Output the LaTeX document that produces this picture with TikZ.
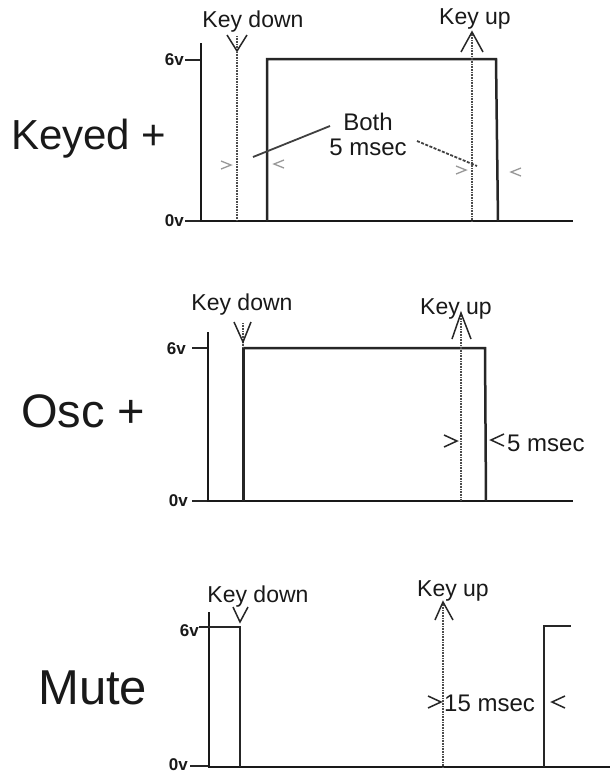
\documentclass[tikz,border=0pt]{standalone}
\usepackage{fontspec}
\setmainfont{Liberation Sans}
\begin{document}
\begin{tikzpicture}[x=1pt,y=-1pt,
  sig/.style={draw=black!85,line width=2.5pt,line join=miter},
  axisline/.style={draw=black!90,line width=2.6pt},
  keyline/.style={draw=black!70,line width=2.4pt,dash pattern=on 1pt off 0.6pt},
  keyhead/.style={draw=black!85,line width=1.5pt},
  title/.style={text=black!90,inner sep=0pt},
  keytxt/.style={font=\fontsize{23}{23}\selectfont,text=black!90,inner sep=0pt},
  mstxt/.style={font=\fontsize{24}{24}\selectfont,text=black!90,inner sep=0pt},
  volt/.style={font=\bfseries\fontsize{17}{17}\selectfont,text=black!90,inner sep=0pt,anchor=east},
  tick/.style={draw=black!85,line width=1.8pt},
  chev1/.style={draw=black!40,line width=1.3pt},
  chev2/.style={draw=black!85,line width=1.5pt},
  leader/.style={draw=black!75,line width=1.8pt}]
\useasboundingbox (0,0) rectangle (610,774);
\fill[white] (0,0) rectangle (610,774);

% ---------- Panel 1: Keyed + ----------
\node[title,font=\fontsize{42}{42}\selectfont,anchor=west] (t1) at (11,139) {Keyed +};
\node[volt] (v6a) at (184,60) {6v};
\node[volt] (v0a) at (184,221) {0v};
\draw[tick] (185,60) -- (201,60);
\draw[tick] (185,221) -- (201,221);
\draw[axisline] (201,43) -- (201,221) -- (573,221);
\draw[sig] (267,221) -- (267,59) -- (496,59) -- (498,221);
% key down
\coordinate (kd1t) at (237,36);
\coordinate (kd1b) at (237,221);
\draw[keyline] (kd1t) -- (kd1b);
\draw[keyhead] (227,35) -- (237,51) -- (247,35);
\node[keytxt] (kd1) at (253,22) {Key down};
% key up
\coordinate (ku1t) at (472,32);
\coordinate (ku1b) at (472,221);
\draw[keyline] (ku1t) -- (ku1b);
\draw[keyhead] (461,52) -- (472,32) -- (483,52);
\node[keytxt] (ku1) at (475,19) {Key up};
% both 5 msec
\node[mstxt] (both) at (368,122) {Both};
\node[mstxt] (ms1) at (368,147) {5 msec};
\coordinate (l1a) at (253,157);
\coordinate (l1b) at (330,126);
\coordinate (l2a) at (417,141);
\coordinate (l2b) at (477,166);
\draw[leader] (l1a) -- (l1b);
\draw[leader,dash pattern=on 3pt off 1.5pt] (l2a) -- (l2b);
\draw[chev1] (221,161) -- (231,165) -- (221,169);
\draw[chev1] (284,160) -- (274,164) -- (284,168);
\draw[chev1] (456,166) -- (466,170) -- (456,174);
\draw[chev1] (521,168) -- (511,172) -- (521,176);

% ---------- Panel 2: Osc + ----------
\node[title,font=\fontsize{47}{47}\selectfont,anchor=west] (t2) at (21,411) {Osc +};
\node[volt] (v6b) at (186,349) {6v};
\node[volt] (v0b) at (188,501) {0v};
\draw[tick] (192,348) -- (208,348);
\draw[tick] (192,501) -- (208,501);
\draw[axisline] (208,332) -- (208,501) -- (573,501);
\draw[sig,line width=3pt] (243,501) -- (243,348);
\draw[sig] (243,348) -- (485,348) -- (486,501);
% key down
\coordinate (kd2t) at (243,323);
\coordinate (kd2b) at (243,348);
\draw[keyline] (kd2t) -- (kd2b);
\draw[keyhead] (234,322) -- (243,342) -- (251,322);
\node[keytxt] (kd2) at (242,305) {Key down};
% key up
\coordinate (ku2t) at (461,313);
\coordinate (ku2b) at (461,501);
\draw[keyline] (ku2t) -- (ku2b);
\draw[keyhead] (452,339) -- (461,313) -- (471,339);
\node[keytxt] (ku2) at (456,309) {Key up};
\draw[chev2] (444,435) -- (457,441) -- (444,447);
\draw[chev2] (504,434) -- (491,440) -- (504,446);
\node[mstxt,anchor=west] (ms2) at (507,443) {5 msec};

% ---------- Panel 3: Mute ----------
\node[title,font=\fontsize{49}{49}\selectfont,anchor=west] (t3) at (38,688) {Mute};
\node[volt] (v6c) at (199,631) {6v};
\node[volt] (v0c) at (188,765) {0v};
\draw[tick] (190,766) -- (208,766);
\draw[axisline] (209,612) -- (209,767) -- (610,767);
\draw[sig] (199,627) -- (240,627) -- (240,767);
% key down
\draw[keyhead] (233,607) -- (240,622) -- (248,607);
\node[keytxt] (kd3) at (258,597) {Key down};
% key up
\coordinate (ku3t) at (443,602);
\coordinate (ku3b) at (443,767);
\draw[keyline] (ku3t) -- (ku3b);
\draw[keyhead] (435,620) -- (443,602) -- (453,620);
\node[keytxt] (ku3) at (453,591) {Key up};
\draw[sig] (544,767) -- (544,626) -- (571,626);
\draw[chev2] (428,696) -- (441,702) -- (428,708);
\node[mstxt,anchor=west] (ms3) at (444,703) {15 msec};
\draw[chev2] (565,696) -- (552,702) -- (565,708);
\end{tikzpicture}
\end{document}
